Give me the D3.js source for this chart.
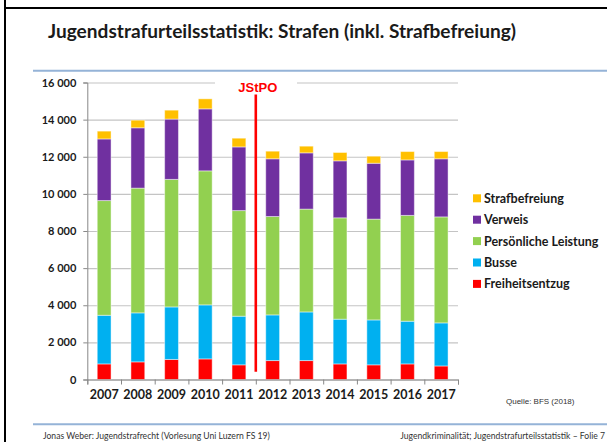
<!DOCTYPE html>
<html>
<head>
<meta charset="utf-8">
<script src="https://cdn.jsdelivr.net/npm/d3@7"></script>
<style>
  body { margin: 0; background: #fff; }
  svg { display: block; }
</style>
</head>
<body>
<div id="chart"></div>
<script>
// data (stacked bars, bottom to top)
const YEARS = ["2007", "2008", "2009", "2010", "2011", "2012", "2013", "2014", "2015", "2016", "2017"];
const FREIHEITSENTZUG = [840, 950, 1080, 1110, 790, 1020, 1020, 840, 790, 840, 730];
const BUSSE = [2620, 2640, 2830, 2910, 2620, 2460, 2620, 2410, 2420, 2300, 2320];
const PERSOENLICHE_LEISTUNG = [6180, 6720, 6870, 7220, 5690, 5300, 5540, 5460, 5430, 5700, 5710];
const VERWEIS = [3320, 3250, 3250, 3340, 3430, 3110, 3030, 3070, 3010, 2990, 3130];
const STRAFBEFREIUNG = [420, 410, 480, 540, 470, 410, 360, 450, 380, 450, 390];
const SERIES = ["Freiheitsentzug", "Busse", "Persönliche Leistung", "Verweis", "Strafbefreiung"];
const Y_TICKS = [0, 2000, 4000, 6000, 8000, 10000, 12000, 14000, 16000];

// constants
const FRAME_WIDTH = 607;
const FRAME_HEIGHT = 442;
const PLOT = {left: 87.3, right: 458, top: 82.5, bottom: 379.5};
const COLORS = ["#FF0000", "#00B0F0", "#92D050", "#7030A0", "#FFC000"];
const FONT = "Lato, 'Open Sans', sans-serif";

const svg = d3.select("#chart")
    .append("svg")
    .attr("width", FRAME_WIDTH)
    .attr("height", FRAME_HEIGHT);

// slide frame
svg.append("line").attr("x1", 5).attr("x2", 5).attr("y1", 0).attr("y2", FRAME_HEIGHT)
    .attr("stroke", "#000").attr("stroke-width", 2);
svg.append("line").attr("x1", 5).attr("x2", FRAME_WIDTH).attr("y1", 8).attr("y2", 8)
    .attr("stroke", "#000").attr("stroke-width", 2);

// title + rules
svg.append("text")
    .attr("x", 48).attr("y", 38)
    .attr("font-family", FONT).attr("font-weight", "bold").attr("font-size", 18)
    .attr("fill", "#1a1a1a")
    .attr("textLength", 468).attr("lengthAdjust", "spacingAndGlyphs")
    .text("Jugendstrafurteilsstatistik: Strafen (inkl. Strafbefreiung)");
svg.append("line").attr("x1", 33).attr("x2", FRAME_WIDTH).attr("y1", 70.7).attr("y2", 70.7)
    .attr("stroke", "#95B3D7").attr("stroke-width", 2);
svg.append("line").attr("x1", 33).attr("x2", FRAME_WIDTH).attr("y1", 424.3).attr("y2", 424.3)
    .attr("stroke", "#95B3D7").attr("stroke-width", 2);

// footer
svg.append("text").attr("x", 43).attr("y", 439)
    .attr("font-family", FONT).attr("font-size", 8.6).attr("fill", "#333")
    .text("Jonas Weber: Jugendstrafrecht (Vorlesung Uni Luzern FS 19)");
svg.append("text").attr("x", 605).attr("y", 439).attr("text-anchor", "end")
    .attr("font-family", FONT).attr("font-size", 8.6).attr("fill", "#333")
    .text("Jugendkriminalität; Jugendstrafurteilsstatistik – Folie 7");
svg.append("text").attr("x", 506).attr("y", 403.5)
    .attr("font-family", "'Liberation Sans', Arial, sans-serif").attr("font-size", 8).attr("fill", "#333")
    .text("Quelle: BFS (2018)");

// scales
const xScale = d3.scaleBand()
    .domain(YEARS)
    .range([PLOT.left, PLOT.right])
    .paddingInner(0.59)
    .paddingOuter(0.295);
const yScale = d3.scaleLinear()
    .domain([0, 16000])
    .range([PLOT.bottom, PLOT.top]);

const fmt = d3.formatLocale({decimal: ",", thousands: " ", grouping: [3], currency: ["", ""]}).format(",d");

// gridlines
const grid = svg.append("g")
    .attr("transform", "translate(" + PLOT.left + ",0)")
    .call(d3.axisLeft(yScale).tickValues(Y_TICKS).tickSize(-(PLOT.right - PLOT.left)).tickFormat(""));
grid.select(".domain").remove();
grid.selectAll("line").attr("stroke", "#C4C4C4").attr("stroke-width", 1.2);

// y axis
const yAxis = svg.append("g")
    .attr("transform", "translate(" + PLOT.left + ",0)")
    .call(d3.axisLeft(yScale).tickValues(Y_TICKS).tickSize(4).tickPadding(7).tickFormat(fmt));
yAxis.select(".domain").attr("stroke", "#888");
yAxis.selectAll("line").attr("stroke", "#888");
yAxis.selectAll("text")
    .attr("font-family", FONT).attr("font-weight", "bold").attr("font-size", 11).attr("fill", "#1a1a1a");

// stacked bars
const rows = YEARS.map((yr, i) => ({
    year: yr,
    "Freiheitsentzug": FREIHEITSENTZUG[i],
    "Busse": BUSSE[i],
    "Persönliche Leistung": PERSOENLICHE_LEISTUNG[i],
    "Verweis": VERWEIS[i],
    "Strafbefreiung": STRAFBEFREIUNG[i]
}));
const stacked = d3.stack().keys(SERIES)(rows);

svg.append("g").selectAll("g")
    .data(stacked)
    .enter()
    .append("g")
    .attr("fill", (d, i) => COLORS[i])
    .selectAll("rect")
    .data(d => d)
    .enter()
    .append("rect")
    .attr("x", d => xScale(d.data.year))
    .attr("y", d => yScale(d[1]))
    .attr("width", xScale.bandwidth())
    .attr("height", d => yScale(d[0]) - yScale(d[1]))
    .attr("stroke", "rgba(255,255,255,0.45)")
    .attr("stroke-width", 1);

// x axis: boundary ticks + year labels
const edgeScale = d3.scaleLinear().domain([0, YEARS.length]).range([PLOT.left, PLOT.right]);
const xAxis = svg.append("g")
    .attr("transform", "translate(0," + PLOT.bottom + ")")
    .call(d3.axisBottom(edgeScale).tickValues(d3.range(YEARS.length + 1)).tickSize(5).tickFormat(""));
xAxis.select(".domain").attr("stroke", "#888");
xAxis.selectAll("line").attr("stroke", "#888");

const xLabels = svg.append("g")
    .attr("transform", "translate(0," + PLOT.bottom + ")")
    .call(d3.axisBottom(xScale).tickSize(0).tickPadding(11));
xLabels.select(".domain").remove();
xLabels.selectAll("text")
    .attr("font-family", FONT).attr("font-weight", "bold").attr("font-size", 12.5).attr("fill", "#1a1a1a");

// JStPO marker between 2011 and 2012
const jstpoX = (xScale("2011") + xScale("2012") + xScale.bandwidth()) / 2;
svg.append("rect")
    .attr("x", 215).attr("y", 76).attr("width", 82).attr("height", 20)
    .attr("fill", "#fff");
svg.append("text")
    .attr("x", jstpoX + 2).attr("y", 91.7).attr("text-anchor", "middle")
    .attr("font-family", "'Liberation Sans', Arial, sans-serif").attr("font-weight", "bold").attr("font-size", 13)
    .attr("fill", "#FF0000")
    .text("JStPO");
svg.append("line")
    .attr("x1", jstpoX).attr("x2", jstpoX)
    .attr("y1", yScale(15350)).attr("y2", yScale(420))
    .attr("stroke", "#FF0000").attr("stroke-width", 2.6);

// legend (top to bottom = reverse stack order)
const legend = svg.append("g").selectAll("g")
    .data(SERIES.slice().reverse())
    .enter()
    .append("g")
    .attr("transform", (d, i) => "translate(473," + (198.3 + i * 21.4) + ")");
legend.append("rect")
    .attr("x", 0).attr("y", -4).attr("width", 8).attr("height", 8)
    .attr("fill", d => COLORS[SERIES.indexOf(d)]);
legend.append("text")
    .attr("x", 11).attr("y", 4.5)
    .attr("font-family", FONT).attr("font-weight", "bold").attr("font-size", 12.5).attr("fill", "#1a1a1a")
    .text(d => d);
</script>
</body>
</html>
